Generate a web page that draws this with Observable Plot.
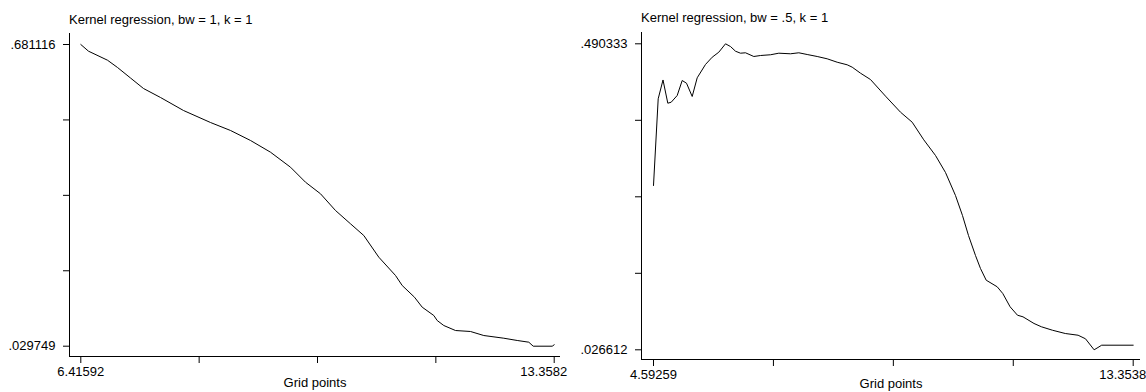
<!DOCTYPE html>
<html>
<head>
<meta charset="utf-8">
<script src="https://cdn.jsdelivr.net/npm/d3@7"></script>
<script src="https://cdn.jsdelivr.net/npm/@observablehq/plot@0.6"></script>
<style>
  html, body { margin: 0; padding: 0; background: #fff; }
  #wrap { position: relative; width: 1146px; height: 392px; overflow: hidden; background: #fff; }
  .panel { position: absolute; top: 0; }
  .title { position: absolute; font-family: "Liberation Sans", Arial, sans-serif; font-size: 13px; line-height: 13px; color: #000; white-space: nowrap; }
</style>
</head>
<body>
<div id="wrap"></div>
<script>
// ---- Left panel data: bw = 1 ----
const leftTitle = "Kernel regression, bw = 1, k = 1";
const leftX = [6.41592, 6.5288, 6.8075, 6.9541, 7.1447, 7.3354, 7.5847, 7.9220, 8.3180, 8.6113, 8.9046, 9.1979, 9.4912, 9.7112, 9.9311, 10.1511, 10.3711, 10.5661, 10.7861, 11.0310, 11.1293, 11.3094, 11.4225, 11.5926, 11.6425, 11.7393, 11.9109, 12.1309, 12.3259, 12.6192, 12.8157, 12.9858, 13.0503, 13.3290, 13.3582];
const leftY = [0.681116, 0.6667, 0.6472, 0.6315, 0.6088, 0.5861, 0.5667, 0.5386, 0.5127, 0.4955, 0.4739, 0.4486, 0.4162, 0.3838, 0.3588, 0.3227, 0.2940, 0.2687, 0.2219, 0.1824, 0.1608, 0.1355, 0.1140, 0.0960, 0.0852, 0.0744, 0.0636, 0.0615, 0.0528, 0.0470, 0.0421, 0.0384, 0.029749, 0.029749, 0.0328];
const leftXLabels = ["6.41592", "13.3582"];
const leftYLabels = [".029749", ".681116"];

// ---- Right panel data: bw = .5 ----
const rightTitle = "Kernel regression, bw = .5, k = 1";
const rightX = [4.59259, 4.6784, 4.7661, 4.8538, 4.9159, 5.0254, 5.1168, 5.1953, 5.2994, 5.3907, 5.5423, 5.6647, 5.7852, 5.9076, 5.9989, 6.0902, 6.1815, 6.2729, 6.4244, 6.5468, 6.7294, 6.8810, 7.0947, 7.2463, 7.3997, 7.5823, 7.7650, 7.9476, 8.1302, 8.2215, 8.3731, 8.5557, 8.8300, 9.1036, 9.3173, 9.5292, 9.7429, 9.9256, 10.1082, 10.2361, 10.3456, 10.4735, 10.5648, 10.6689, 10.8698, 10.9721, 11.1054, 11.2406, 11.3410, 11.5419, 11.6771, 11.8780, 12.1136, 12.3474, 12.4825, 12.6400, 12.7104, 12.7779, 13.3538];
const rightY = [0.2756, 0.4070, 0.4355, 0.4003, 0.4018, 0.4120, 0.4347, 0.4306, 0.4105, 0.4388, 0.4590, 0.4700, 0.4776, 0.490333, 0.4862, 0.4791, 0.4761, 0.4767, 0.4711, 0.4726, 0.4737, 0.4761, 0.4752, 0.4767, 0.4741, 0.4711, 0.4676, 0.4624, 0.4585, 0.4549, 0.4458, 0.4362, 0.4110, 0.3867, 0.3715, 0.3448, 0.3211, 0.2953, 0.2604, 0.2301, 0.1998, 0.1695, 0.1498, 0.1321, 0.1221, 0.1119, 0.0918, 0.0790, 0.0766, 0.0665, 0.0615, 0.0563, 0.0513, 0.0487, 0.0433, 0.026612, 0.0301, 0.0336, 0.0336];
const rightXLabels = ["4.59259", "13.3538"];
const rightYLabels = [".026612", ".490333"];

const axisLabel = "Grid points";
const FONT = '"Liberation Sans", Arial, Helvetica, sans-serif';

function panel(cfg) {
  const {xs, ys, xLab, yLab, width, height, mL, mR, mT, mB, inL, inR, inT, inB, labelOffset} = cfg;
  const xmin = d3.min(xs), xmax = d3.max(xs), ymin = d3.min(ys), ymax = d3.max(ys);
  const frameW = width - mL - mR, frameH = height - mT - mB;
  const kx = (xmax - xmin) / (frameW - inL - inR);
  const ky = (ymax - ymin) / (frameH - inT - inB);
  const xDomain = [xmin - inL * kx, xmax + inR * kx];
  const yDomain = [ymin - inB * ky, ymax + inT * ky];
  const xTicks = d3.range(5).map(i => xmin + i * (xmax - xmin) / 4);
  const yTicks = d3.range(5).map(i => ymin + i * (ymax - ymin) / 4);
  const data = xs.map((x, i) => ({x, y: ys[i]}));
  const near = (a, b) => Math.abs(a - b) < 1e-9;
  return Plot.plot({
    width, height,
    marginLeft: mL, marginRight: mR, marginTop: mT, marginBottom: mB,
    style: {fontFamily: FONT, fontSize: "13px", color: "#000", background: "transparent", overflow: "visible"},
    x: {domain: xDomain, label: null},
    y: {domain: yDomain, label: null},
    marks: [
      Plot.ruleX([xDomain[0]], {stroke: "#000", strokeWidth: 1}),
      Plot.ruleY([yDomain[0]], {stroke: "#000", strokeWidth: 1}),
      Plot.axisY(yTicks, {anchor: "left", tickSize: 6, tickPadding: 8, stroke: "#000", fill: "#000", label: null,
        tickFormat: d => near(d, ymin) ? yLab[0] : near(d, ymax) ? yLab[1] : ""}),
      Plot.axisX(xTicks, {anchor: "bottom", tickSize: 7, tickPadding: 3, stroke: "#000", fill: "#000",
        tickFormat: () => "", label: axisLabel, labelAnchor: "center", labelArrow: "none", labelOffset}),
      Plot.axisX([xmin], {anchor: "bottom", tickSize: 0, tickPadding: 10, fill: "#000", label: null,
        tickFormat: () => xLab[0]}),
      Plot.axisX([xmax], {anchor: "bottom", tickSize: 0, tickPadding: 10, fill: "#000", label: null,
        textAnchor: "end", dx: 13, tickFormat: () => xLab[1]}),
      Plot.line(data, {x: "x", y: "y", stroke: "#000", strokeWidth: 1})
    ]
  });
}

const wrap = document.getElementById("wrap");

const leftDiv = document.createElement("div");
leftDiv.className = "panel";
leftDiv.style.left = "0px";
leftDiv.appendChild(panel({xs: leftX, ys: leftY, xLab: leftXLabels, yLab: leftYLabels,
  width: 561, height: 392, mL: 69, mR: 1, mT: 33, mB: 36,
  inL: 11.3, inR: 6.3, inT: 11, inB: 10.3, labelOffset: 30}));
wrap.appendChild(leftDiv);

const rightDiv = document.createElement("div");
rightDiv.className = "panel";
rightDiv.style.left = "580px";
rightDiv.appendChild(panel({xs: rightX, ys: rightY, xLab: rightXLabels, yLab: rightYLabels,
  width: 566, height: 392, mL: 61, mR: 6, mT: 32, mB: 33,
  inL: 12, inR: 7.3, inT: 11.3, inB: 9.7, labelOffset: 28.5}));
wrap.appendChild(rightDiv);

const t1 = document.createElement("div");
t1.className = "title";
t1.style.left = "69px"; t1.style.top = "12.5px";
t1.textContent = leftTitle;
wrap.appendChild(t1);

const t2 = document.createElement("div");
t2.className = "title";
t2.style.left = "641px"; t2.style.top = "11px";
t2.textContent = rightTitle;
wrap.appendChild(t2);
</script>
</body>
</html>
